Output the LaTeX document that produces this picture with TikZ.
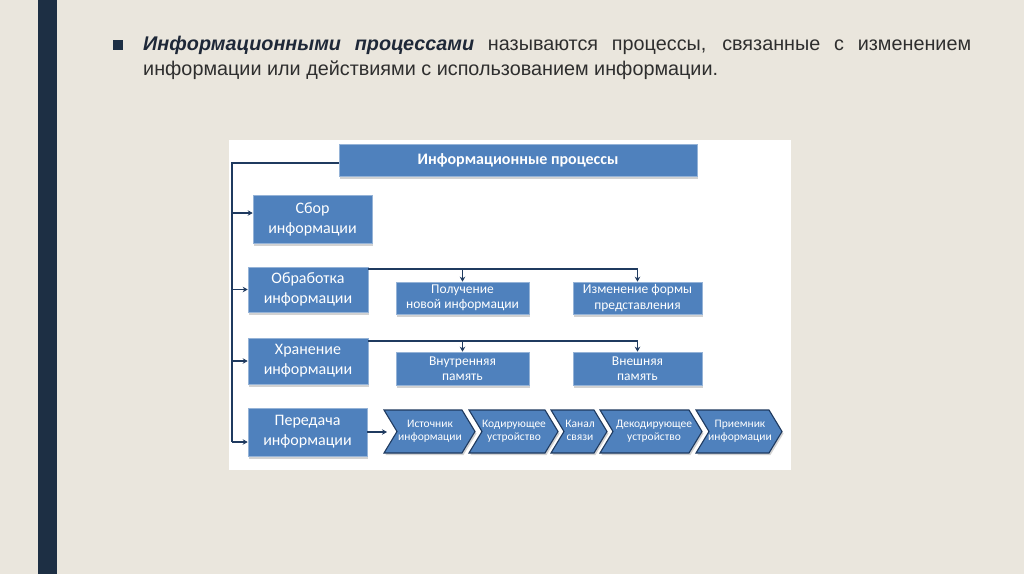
\documentclass[tikz,border=0pt]{standalone}
\usepackage{fontspec}
\setmainfont{Liberation Sans}
\newfontfamily\boxfont{Carlito}
\usetikzlibrary{arrows.meta,shadows}
\definecolor{bg}{HTML}{EAE6DD}
\definecolor{bar}{HTML}{1D2F44}
\definecolor{boxblue}{HTML}{4F81BD}
\definecolor{navy}{HTML}{1F3A5F}
\definecolor{txtdark}{HTML}{2E2E2E}
\definecolor{titledark}{HTML}{1E2838}
\begin{document}
\begin{tikzpicture}[x=1pt,y=-1pt,
  box/.style={fill=boxblue, draw=boxblue!60!white, line width=0.6pt, text=white,
    align=center, inner sep=1pt,
    drop shadow={shadow xshift=1.2pt, shadow yshift=-2.5pt, fill=black!35, opacity=0.5}},
  mainbox/.style={box, font=\boxfont\fontsize{16}{20}\selectfont},
  subbox/.style={box, font=\boxfont\fontsize{13.5}{15.5}\selectfont},
  chev/.style={fill=boxblue, draw=navy, line width=1.1pt, line join=miter,
    drop shadow={shadow xshift=1.5pt, shadow yshift=-2pt, fill=black!35, opacity=0.5}},
  chevtxt/.style={text=white, align=center, inner sep=0pt, font=\boxfont\fontsize{11.5}{13}\selectfont},
  conn/.style={draw=navy, line width=1.8pt},
  arr/.style={draw=navy, line width=1.8pt, -{Stealth[length=5pt,width=5.5pt]}}
]
\useasboundingbox (0,0) rectangle (1024,574);
\fill[bg] (0,0) rectangle (1024,574);
\fill[bar] (38,0) rectangle (57,574);
\fill[white] (229,140) rectangle (791,470);

% bullet and intro text
\node[fill=bar, minimum size=10pt, inner sep=0pt] (bul) at (118,45) {};
\node[anchor=north west, text width=828pt, align=justify, inner sep=0pt,
  font=\fontsize{19.8}{25}\selectfont, text=txtdark] (intro) at (143,36)
  {\textcolor{titledark}{\textbf{\textit{Информационными процессами}}} называются процессы, связанные с изменением\linebreak информации или действиями с использованием информации.};

% boxes
\node[box, minimum width=358pt, minimum height=32pt, font=\boxfont\bfseries\fontsize{16}{18}\selectfont] (top) at (518,160) {Информационные процессы};
\node[mainbox, minimum width=119pt, minimum height=48pt] (sbor) at (312.5,219) {Сбор\\информации};
\node[mainbox, minimum width=120pt, minimum height=45pt] (obr) at (308,289.5) {Обработка\\информации};
\node[mainbox, minimum width=120pt, minimum height=46pt] (hran) at (308,361) {Хранение\\информации};
\node[mainbox, minimum width=119pt, minimum height=48pt] (per) at (307.5,432) {Передача\\информации};

\node[subbox, minimum width=133pt, minimum height=32pt] (pol) at (462.5,298) {Получение\\новой информации};
\node[subbox, minimum width=129pt, minimum height=32pt] (izm) at (637.5,298) {Изменение формы\\представления};
\node[subbox, minimum width=133pt, minimum height=33pt] (vnut) at (462.5,368.5) {Внутренняя\\память};
\node[subbox, minimum width=129pt, minimum height=33pt] (vnesh) at (637.5,368.5) {Внешняя\\память};

% chevrons
\draw[chev] (384,410) -- (462,410) -- (475,431.5) -- (462,453) -- (384,453) -- (397,431.5) -- cycle;
\draw[chev] (469,410) -- (545,410) -- (558,431.5) -- (545,453) -- (469,453) -- (482,431.5) -- cycle;
\draw[chev] (551,410) -- (594,410) -- (607,431.5) -- (594,453) -- (551,453) -- (564,431.5) -- cycle;
\draw[chev] (600,410) -- (689,410) -- (702,431.5) -- (689,453) -- (600,453) -- (613,431.5) -- cycle;
\draw[chev] (696,410) -- (769,410) -- (782,431.5) -- (769,453) -- (696,453) -- (709,431.5) -- cycle;
\node[chevtxt] (c1) at (430,431.5) {Источник\\информации};
\node[chevtxt] (c2) at (514,431.5) {Кодирующее\\устройство};
\node[chevtxt] (c3) at (580,430.5) {Канал\\связи};
\node[chevtxt] (c4) at (654,431.5) {Декодирующее\\устройство};
\node[chevtxt] (c5) at (740,431.5) {Приемник\\информации};

% connectors
\coordinate (tb) at (232,442);
\draw[conn] ([yshift=-3pt]top.west) -| (tb);
\coordinate (sa) at ([yshift=6pt]sbor.west);
\draw[arr] (sa -| tb) -- (sa);
\draw[arr] (obr.west -| tb) -- (obr.west);
\draw[arr] (hran.west -| tb) -- (hran.west);
\coordinate (pa) at ([yshift=-10pt]per.west);
\draw[arr] (pa -| tb) -- (pa);

\coordinate (o1) at ([yshift=-2pt]obr.north east);
\draw[arr] (o1) -| (izm.north);
\draw[arr] (o1 -| pol.north) -- (pol.north);
\coordinate (h1) at ([yshift=-3pt]hran.north east);
\draw[arr] (h1) -| (vnesh.north);
\draw[arr] (h1 -| vnut.north) -- (vnut.north);

\coordinate (c1in) at (387,432);
\draw[arr] (per.east) -- (c1in);
\end{tikzpicture}
\end{document}
